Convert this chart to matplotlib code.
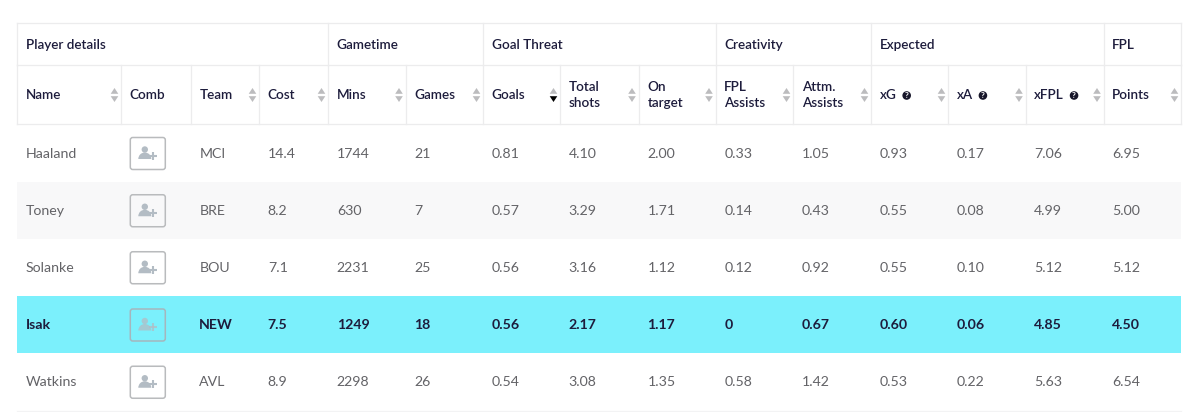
import matplotlib
matplotlib.use('Agg')
import matplotlib.pyplot as plt
from matplotlib.patches import Rectangle, FancyBboxPatch, Circle, Polygon, Wedge

plt.rcParams['font.family'] = ['Lato', 'DejaVu Sans']

# --- data ---
groups = ['Player details', 'Gametime', 'Goal Threat', 'Creativity', 'Expected', 'FPL']
group_spans = [4, 2, 3, 2, 3, 1]
headers = ['Name', 'Comb', 'Team', 'Cost', 'Mins', 'Games', 'Goals', 'Total\nshots', 'On\ntarget',
           'FPL\nAssists', 'Attm.\nAssists', 'xG', 'xA', 'xFPL', 'Points']
help_cols = ['xG', 'xA', 'xFPL']
names = ['Haaland', 'Toney', 'Solanke', 'Isak', 'Watkins']
teams = ['MCI', 'BRE', 'BOU', 'NEW', 'AVL']
cost = ['14.4', '8.2', '7.1', '7.5', '8.9']
mins = ['1744', '630', '2231', '1249', '2298']
games = ['21', '7', '25', '18', '26']
goals = ['0.81', '0.57', '0.56', '0.56', '0.54']
shots = ['4.10', '3.29', '3.16', '2.17', '3.08']
on_target = ['2.00', '1.71', '1.12', '1.17', '1.35']
fpl_assists = ['0.33', '0.14', '0.12', '0', '0.58']
attm_assists = ['1.05', '0.43', '0.92', '0.67', '1.42']
xg = ['0.93', '0.55', '0.55', '0.60', '0.53']
xa = ['0.17', '0.08', '0.10', '0.06', '0.22']
xfpl = ['7.06', '4.99', '5.12', '4.85', '5.63']
points = ['6.95', '5.00', '5.12', '4.50', '6.54']
columns = [names, None, teams, cost, mins, games, goals, shots, on_target,
           fpl_assists, attm_assists, xg, xa, xfpl, points]

# --- layout (pixels) ---
col_edges = [17, 121, 190.5, 259, 328, 405.5, 483, 560, 638.5, 715.5, 793, 871, 948, 1025.5, 1103.5, 1181]
row_edges = [124, 182, 238.5, 296, 353, 410.5]
TOP, MID = 23, 65
LINE = '#ececed'
DARK = '#1d1c3c'
GREY = '#636367'
ARROW = '#bcbcbe'
PAD = 8.8
HEAD_SIZE = 9.7
BODY_SIZE = 10.2

fig = plt.figure(figsize=(12, 4.12), dpi=100)
ax = fig.add_axes([0, 0, 1, 1])
ax.set_xlim(0, 1200)
ax.set_ylim(412, 0)
ax.axis('off')


def draw_person(cx, cy, color, alpha=1.0):
    ax.add_patch(Circle((cx - 3, cy - 4), 3.2, fc=color, ec='none', alpha=alpha, zorder=4))
    ax.add_patch(Wedge((cx - 3, cy + 5.5), 6.5, 180, 360, fc=color, ec='none', alpha=alpha, zorder=4))
    ax.plot([cx + 1, cx + 9], [cy + 2, cy + 2], color=color, lw=1.5, alpha=alpha, zorder=4, solid_capstyle='butt')
    ax.plot([cx + 5, cx + 5], [cy - 2, cy + 6], color=color, lw=1.5, alpha=alpha, zorder=4, solid_capstyle='butt')


def draw_sort(x, y, active=False):
    ax.add_patch(Polygon([(x - 3.8, y - 1.2), (x + 3.8, y - 1.2), (x, y - 7)], fc=ARROW, ec='none', zorder=3))
    c = '#000000' if active else ARROW
    ax.add_patch(Polygon([(x - 3.8, y + 1.2), (x + 3.8, y + 1.2), (x, y + 7)], fc=c, ec='none', zorder=3))


# row backgrounds
ax.add_patch(Rectangle((col_edges[0], row_edges[1]), col_edges[-1] - col_edges[0], row_edges[2] - row_edges[1],
                       fc='#f8f8f9', ec='none', zorder=1))
ax.add_patch(Rectangle((col_edges[0], row_edges[3]), col_edges[-1] - col_edges[0], row_edges[4] - row_edges[3],
                       fc='#7bf0fc', ec='none', zorder=1))

# header grid
for y in [TOP, MID, row_edges[0]]:
    ax.plot([col_edges[0], col_edges[-1]], [y, y], color=LINE, lw=0.9, zorder=2)
ax.plot([col_edges[0], col_edges[-1]], [row_edges[-1], row_edges[-1]], color='#f3f3f4', lw=0.9, zorder=2)
for x in col_edges:
    ax.plot([x, x], [MID, row_edges[0]], color=LINE, lw=0.9, zorder=2)

# group headers
start = 0
for g, span in zip(groups, group_spans):
    x = col_edges[start]
    ax.plot([x, x], [TOP, MID], color=LINE, lw=0.9, zorder=2)
    ax.text(x + PAD, 44.5, g, color=DARK, fontsize=HEAD_SIZE, fontweight='semibold', va='center', ha='left', zorder=5)
    start += span
ax.plot([col_edges[-1]] * 2, [TOP, MID], color=LINE, lw=0.9, zorder=2)

# column headers
head_y = (MID + row_edges[0]) / 2
for i, h in enumerate(headers):
    left = col_edges[i]
    right = col_edges[i + 1]
    t = ax.text(left + PAD, head_y + 0.5, h, color=DARK, fontsize=HEAD_SIZE, fontweight='semibold', va='center',
                ha='left', linespacing=1.42, zorder=5)
    if h != 'Comb':
        draw_sort(right - 6.5, head_y + 0.5, active=(h == 'Goals'))
    if h in help_cols:
        w = t.get_window_extent(fig.canvas.get_renderer()).width
        qx = left + PAD + w + 10
        ax.add_patch(Circle((qx, head_y + 1), 4.3, fc='#17162a', ec='none', zorder=5))
        ax.text(qx, head_y + 1, '?', color='white', fontsize=6, fontweight='bold', ha='center', va='center', zorder=6)

# body rows
for r in range(len(names)):
    cy = (row_edges[r] + row_edges[r + 1]) / 2 + 0.5
    hi = names[r] == 'Isak'
    for c, col in enumerate(columns):
        x = col_edges[c] + PAD
        if col is None:
            ax.add_patch(FancyBboxPatch((x + 0.5, cy - 16), 35, 32, boxstyle='round,pad=0,rounding_size=2.5',
                                        fc='none', ec='#a5b6bd' if hi else '#b9bbbd', lw=1.1, zorder=3))
            draw_person(x + 18, cy, '#b3bcc4', alpha=0.75 if hi else 1.0)
            continue
        ax.text(x, cy, col[r], color=DARK if hi else GREY, fontsize=BODY_SIZE,
                fontweight='bold' if hi else 'normal', va='center', ha='left', zorder=5)

fig.savefig('out.png', dpi=100, facecolor='white')
